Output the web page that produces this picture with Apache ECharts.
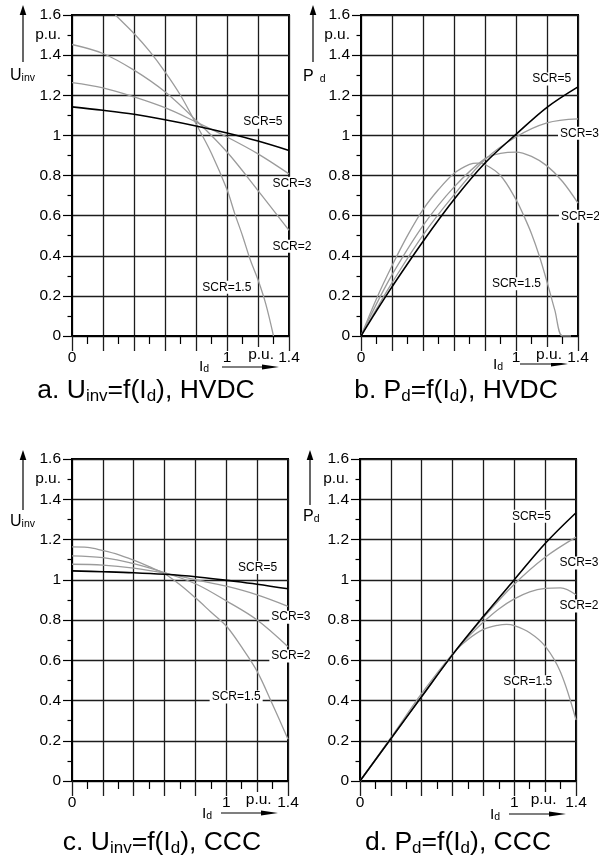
<!DOCTYPE html>
<html>
<head>
<meta charset="utf-8">
<script src="https://cdn.jsdelivr.net/npm/echarts@6/dist/echarts.min.js"></script>
<style>
  html, body { margin: 0; padding: 0; background: #fff; }
  #chart { width: 599px; height: 863px; }
</style>
</head>
<body>
<div id="chart"></div>
<script>
// ---- a. U_inv = f(I_d), HVDC ----
const idA = [0, 0.2, 0.4, 0.6, 0.8, 1.0, 1.2, 1.4];
const uHvdcScr5 = [1.142, 1.125, 1.105, 1.078, 1.047, 1.012, 0.972, 0.925];
const uHvdcScr3 = [1.263, 1.237, 1.192, 1.138, 1.067, 0.992, 0.908, 0.808];
const uHvdcScr2 = [1.453, 1.408, 1.325, 1.217, 1.075, 0.917, 0.725, 0.527];
const idA15 = [0.28, 0.3, 0.4, 0.5, 0.6, 0.7, 0.8, 0.9, 1.0, 1.05, 1.1, 1.15, 1.2, 1.25, 1.3];
const uHvdcScr15 = [1.6, 1.585, 1.508, 1.42, 1.317, 1.2, 1.058, 0.91, 0.73, 0.61, 0.5, 0.38, 0.28, 0.16, 0];

// ---- b. P_d = f(I_d), HVDC ----
const idB = [0, 0.1, 0.2, 0.4, 0.6, 0.8, 1.0, 1.2, 1.4];
const pHvdcScr5 = [0, 0.125, 0.245, 0.471, 0.68, 0.862, 1.005, 1.14, 1.242];
const pHvdcScr3 = [0, 0.135, 0.265, 0.503, 0.703, 0.88, 0.992, 1.062, 1.082];
const idB2 = [0, 0.1, 0.2, 0.4, 0.6, 0.8, 0.9, 1.0, 1.1, 1.2, 1.3, 1.4];
const pHvdcScr2 = [0, 0.16, 0.305, 0.55, 0.742, 0.884, 0.91, 0.917, 0.895, 0.848, 0.77, 0.662];
const idB15 = [0, 0.1, 0.2, 0.3, 0.4, 0.5, 0.6, 0.7, 0.75, 0.8, 0.9, 1.0, 1.05, 1.1, 1.15, 1.2, 1.25, 1.3, 1.355];
const pHvdcScr15 = [0, 0.186, 0.35, 0.5, 0.63, 0.73, 0.81, 0.855, 0.862, 0.855, 0.8, 0.68, 0.6, 0.51, 0.4, 0.27, 0.13, 0, 0];

// ---- c. U_inv = f(I_d), CCC ----
const idC = [0, 0.2, 0.4, 0.6, 0.8, 1.0, 1.2, 1.4];
const uCccScr5 = [1.044, 1.040, 1.035, 1.027, 1.015, 0.997, 0.978, 0.955];
const uCccScr3 = [1.077, 1.073, 1.058, 1.033, 1.0, 0.968, 0.925, 0.868];
const uCccScr2 = [1.119, 1.110, 1.080, 1.035, 0.98, 0.895, 0.80, 0.667];
const idC15 = [0, 0.1, 0.2, 0.3, 0.4, 0.5, 0.6, 0.7, 0.8, 0.9, 1.0, 1.1, 1.2, 1.3, 1.4];
const uCccScr15 = [1.163, 1.161, 1.145, 1.125, 1.097, 1.065, 1.03, 0.975, 0.91, 0.84, 0.77, 0.665, 0.545, 0.38, 0.208];

// ---- d. P_d = f(I_d), CCC ----
const idD = [0, 0.2, 0.4, 0.6, 0.8, 1.0, 1.2, 1.4];
const pCccScr5 = [0, 0.21, 0.42, 0.628, 0.818, 1.0, 1.18, 1.333];
const pCccScr3 = [0, 0.21, 0.42, 0.628, 0.812, 0.978, 1.112, 1.212];
const idD2 = [0, 0.2, 0.4, 0.6, 0.7, 0.8, 0.9, 1.0, 1.1, 1.2, 1.3, 1.4];
const pCccScr2 = [0, 0.21, 0.42, 0.627, 0.715, 0.79, 0.855, 0.905, 0.94, 0.957, 0.96, 0.925];
const idD15 = [0, 0.2, 0.4, 0.6, 0.7, 0.8, 0.9, 0.95, 1.0, 1.1, 1.2, 1.3, 1.4];
const pCccScr15 = [0, 0.215, 0.435, 0.632, 0.703, 0.753, 0.775, 0.778, 0.772, 0.737, 0.67, 0.54, 0.303];

// axis ranges and tick labels
const xMin = 0, xMax = 1.4, xStep = 0.2;
const yMin = 0, yMax = 1.6, yStep = 0.2;
const xTickLabels = { 0: '0', 1: '1', 1.4: '1.4' };
const unitLabel = 'p.u.';
const scrNames = ['SCR=5', 'SCR=3', 'SCR=2', 'SCR=1.5'];

const FONT = "'Liberation Sans', Arial, Helvetica, sans-serif";
const GRID_COLOR = '#1c1c1c';
const BLACK_CURVE = { color: '#000', width: 1.6 };
const GRAY_CURVE = { color: '#9b9b9b', width: 1.3 };

const pair = (xs, ys) => xs.map((x, i) => [x, ys[i]]);

const panels = [
  {
    grid: { left: 72, top: 15, width: 217, height: 321 },
    curves: [
      [idA, uHvdcScr5, BLACK_CURVE], [idA, uHvdcScr3, GRAY_CURVE],
      [idA, uHvdcScr2, GRAY_CURVE], [idA15, uHvdcScr15, GRAY_CURVE]
    ],
    labels: [
      { at: [1.231, 1.066], align: 'center' }, { at: [1.28, 0.761], align: 'left' },
      { at: [1.28, 0.447], align: 'left' }, { at: [0.999, 0.243], align: 'center' }
    ],
    yTitle: { main: 'U', sub: 'inv', x: 10, y: 75, gap: 0 },
    yArrow: { x: 23, top: 5, bottom: 62 },
    xTitle: { x: 199, y: 366 },
    xArrow: { left: 222, right: 279, y: 367 },
    xUnitAt: 1.22,
    title: { text: '{m|a. U}{s|inv}{m|=f(I}{s|d}{m|), HVDC}', x: 146, y: 389 }
  },
  {
    grid: { left: 361, top: 15, width: 217, height: 321 },
    curves: [
      [idB, pHvdcScr5, BLACK_CURVE], [idB, pHvdcScr3, GRAY_CURVE],
      [idB2, pHvdcScr2, GRAY_CURVE], [idB15, pHvdcScr15, GRAY_CURVE]
    ],
    labels: [
      { at: [1.23, 1.281], align: 'center' }, { at: [1.271, 1.01], align: 'left' },
      { at: [1.277, 0.597], align: 'left' }, { at: [1.003, 0.261], align: 'center' }
    ],
    yTitle: { main: 'P', sub: 'd', x: 303, y: 76, gap: 6 },
    yArrow: { x: 313, top: 5, bottom: 62 },
    xTitle: { x: 493, y: 364 },
    xArrow: { left: 520, right: 568, y: 364 },
    xUnitAt: 1.213,
    title: { text: '{m|b. P}{s|d}{m|=f(I}{s|d}{m|), HVDC}', x: 456, y: 389 }
  },
  {
    grid: { left: 72, top: 459, width: 216, height: 322 },
    curves: [
      [idC, uCccScr5, BLACK_CURVE], [idC, uCccScr3, GRAY_CURVE],
      [idC, uCccScr2, GRAY_CURVE], [idC15, uCccScr15, GRAY_CURVE]
    ],
    labels: [
      { at: [1.203, 1.061], align: 'center' }, { at: [1.279, 0.814], align: 'left' },
      { at: [1.279, 0.621], align: 'left' }, { at: [1.064, 0.418], align: 'center' }
    ],
    yTitle: { main: 'U', sub: 'inv', x: 10, y: 521, gap: 0 },
    yArrow: { x: 23, top: 450, bottom: 510 },
    xTitle: { x: 202, y: 813 },
    xArrow: { left: 221, right: 278, y: 813 },
    xUnitAt: 1.21,
    title: { text: '{m|c. U}{s|inv}{m|=f(I}{s|d}{m|), CCC}', x: 162, y: 841 }
  },
  {
    grid: { left: 360, top: 459, width: 216, height: 322 },
    curves: [
      [idD, pCccScr5, BLACK_CURVE], [idD, pCccScr3, GRAY_CURVE],
      [idD2, pCccScr2, GRAY_CURVE], [idD15, pCccScr15, GRAY_CURVE]
    ],
    labels: [
      { at: [1.111, 1.315], align: 'center' }, { at: [1.28, 1.083], align: 'left' },
      { at: [1.28, 0.870], align: 'left' }, { at: [1.087, 0.493], align: 'center' }
    ],
    yTitle: { main: 'P', sub: 'd', x: 303, y: 516, gap: 0 },
    yArrow: { x: 310, top: 450, bottom: 505 },
    xTitle: { x: 490, y: 814 },
    xArrow: { left: 509, right: 566, y: 814 },
    xUnitAt: 1.19,
    title: { text: '{m|d. P}{s|d}{m|=f(I}{s|d}{m|), CCC}', x: 458, y: 841 }
  }
];

const tickLine = { color: GRID_COLOR, width: 1.3 };

const option = {
  animation: false,
  backgroundColor: '#fff',
  grid: panels.map(p => Object.assign({
    show: true, borderColor: '#000', borderWidth: 2, backgroundColor: 'transparent'
  }, p.grid)),
  xAxis: panels.map((p, i) => ({
    type: 'value', gridIndex: i, min: xMin, max: xMax, interval: xStep,
    axisLine: { show: true, onZero: false, lineStyle: { color: '#000', width: 2 } },
    axisTick: { show: true, length: 15, lineStyle: tickLine },
    minorTick: { show: true, splitNumber: 2, length: 8, lineStyle: { color: '#000', width: 1.2 } },
    splitLine: { show: true, lineStyle: tickLine },
    axisLabel: {
      margin: 14, fontSize: 15.5, fontFamily: FONT, color: '#000',
      showMinLabel: true, showMaxLabel: true, hideOverlap: false,
      formatter: v => {
        const k = Object.keys(xTickLabels).find(t => Math.abs(+t - v) < 1e-6);
        return k === undefined ? '' : xTickLabels[k];
      }
    }
  })),
  yAxis: panels.map((p, i) => ({
    type: 'value', gridIndex: i, min: yMin, max: yMax, interval: yStep,
    axisLine: { show: true, onZero: false, lineStyle: { color: '#000', width: 2 } },
    axisTick: { show: true, length: 9, lineStyle: { color: '#000', width: 1.2 } },
    minorTick: { show: true, splitNumber: 2, length: 4.5, lineStyle: { color: '#000', width: 1.2 } },
    splitLine: { show: true, lineStyle: tickLine },
    axisLabel: {
      margin: 11, fontSize: 15.5, fontFamily: FONT, color: '#000',
      showMinLabel: true, showMaxLabel: true,
      formatter: v => String(+v.toFixed(1))
    }
  })),
  series: []
};

panels.forEach((p, i) => {
  p.curves.forEach((c, k) => {
    option.series.push({
      type: 'line', name: scrNames[k], xAxisIndex: i, yAxisIndex: i,
      data: pair(c[0], c[1]), showSymbol: false, symbol: 'none',
      smooth: 0.35, clip: true, z: k === 0 ? 4 : 3,
      lineStyle: { color: c[2].color, width: c[2].width },
      emphasis: { disabled: true }
    });
  });
});

const chart = echarts.init(document.getElementById('chart'), null, { renderer: 'canvas' });
chart.setOption(option);

// ---- text annotations and axis arrows ----
const graphics = [];
const txt = (x, y, style, z) => graphics.push({
  type: 'text', x, y, z: z || 10, silent: true,
  style: Object.assign({ fill: '#000', fontFamily: FONT }, style)
});
const arrowUp = (a) => {
  graphics.push({ type: 'line', silent: true, shape: { x1: a.x, y1: a.bottom, x2: a.x, y2: a.top + 8 },
    style: { stroke: '#000', lineWidth: 1.2 } });
  graphics.push({ type: 'polygon', silent: true,
    shape: { points: [[a.x, a.top], [a.x - 3.3, a.top + 10], [a.x + 3.3, a.top + 10]] },
    style: { fill: '#000' } });
};
const arrowRight = (a) => {
  graphics.push({ type: 'line', silent: true, shape: { x1: a.left, y1: a.y, x2: a.right - 12, y2: a.y },
    style: { stroke: '#000', lineWidth: 1.2 } });
  graphics.push({ type: 'polygon', silent: true,
    shape: { points: [[a.right, a.y], [a.right - 17, a.y - 2.6], [a.right - 17, a.y + 2.6]] },
    style: { fill: '#000' } });
};

panels.forEach((p, i) => {
  const px = v => chart.convertToPixel({ gridIndex: i }, v);

  // curve labels
  p.labels.forEach((l, k) => {
    const pt = px(l.at);
    txt(pt[0], pt[1], {
      text: scrNames[k], fontSize: 12, align: l.align, verticalAlign: 'middle',
      textAlign: l.align, textVerticalAlign: 'middle',
      backgroundColor: '#fff', padding: [1, 2, 0, 2]
    });
  });

  // unit labels on both axes
  const yUnit = px([0, 1.5]);
  txt(p.grid.left - 11, yUnit[1], {
    text: unitLabel, fontSize: 15.5, align: 'right', verticalAlign: 'middle',
    textAlign: 'right', textVerticalAlign: 'middle'
  });
  const xUnit = px([p.xUnitAt, 0]);
  txt(xUnit[0], xUnit[1] + 19, {
    text: unitLabel, fontSize: 15.5, align: 'center', verticalAlign: 'middle',
    textAlign: 'center', textVerticalAlign: 'middle', backgroundColor: '#fff', padding: [0, 1]
  }, 12);

  // axis titles
  const yt = p.yTitle;
  txt(yt.x, yt.y, {
    text: '{m|' + yt.main + '}{s|' + yt.sub + '}', align: 'left', verticalAlign: 'middle',
    textAlign: 'left', textVerticalAlign: 'middle',
    rich: {
      m: { fontSize: 16, fontFamily: FONT, lineHeight: 18, verticalAlign: 'bottom' },
      s: { fontSize: 10.5, fontFamily: FONT, lineHeight: 10, verticalAlign: 'bottom', padding: [0, 0, 0, yt.gap] }
    }
  });
  arrowUp(p.yArrow);

  txt(p.xTitle.x, p.xTitle.y, {
    text: '{m|I}{s|d}', align: 'left', verticalAlign: 'middle',
    textAlign: 'left', textVerticalAlign: 'middle',
    rich: {
      m: { fontSize: 15.5, fontFamily: FONT, lineHeight: 18, verticalAlign: 'bottom' },
      s: { fontSize: 10.5, fontFamily: FONT, lineHeight: 10, verticalAlign: 'bottom' }
    }
  });
  arrowRight(p.xArrow);

  // panel caption
  txt(p.title.x, p.title.y, {
    text: p.title.text, align: 'center', verticalAlign: 'middle',
    textAlign: 'center', textVerticalAlign: 'middle',
    rich: {
      m: { fontSize: 26.5, fontFamily: FONT, lineHeight: 31, verticalAlign: 'bottom' },
      s: { fontSize: 17, fontFamily: FONT, lineHeight: 17, verticalAlign: 'bottom' }
    }
  });
});

chart.setOption({ graphic: graphics });
</script>
</body>
</html>
